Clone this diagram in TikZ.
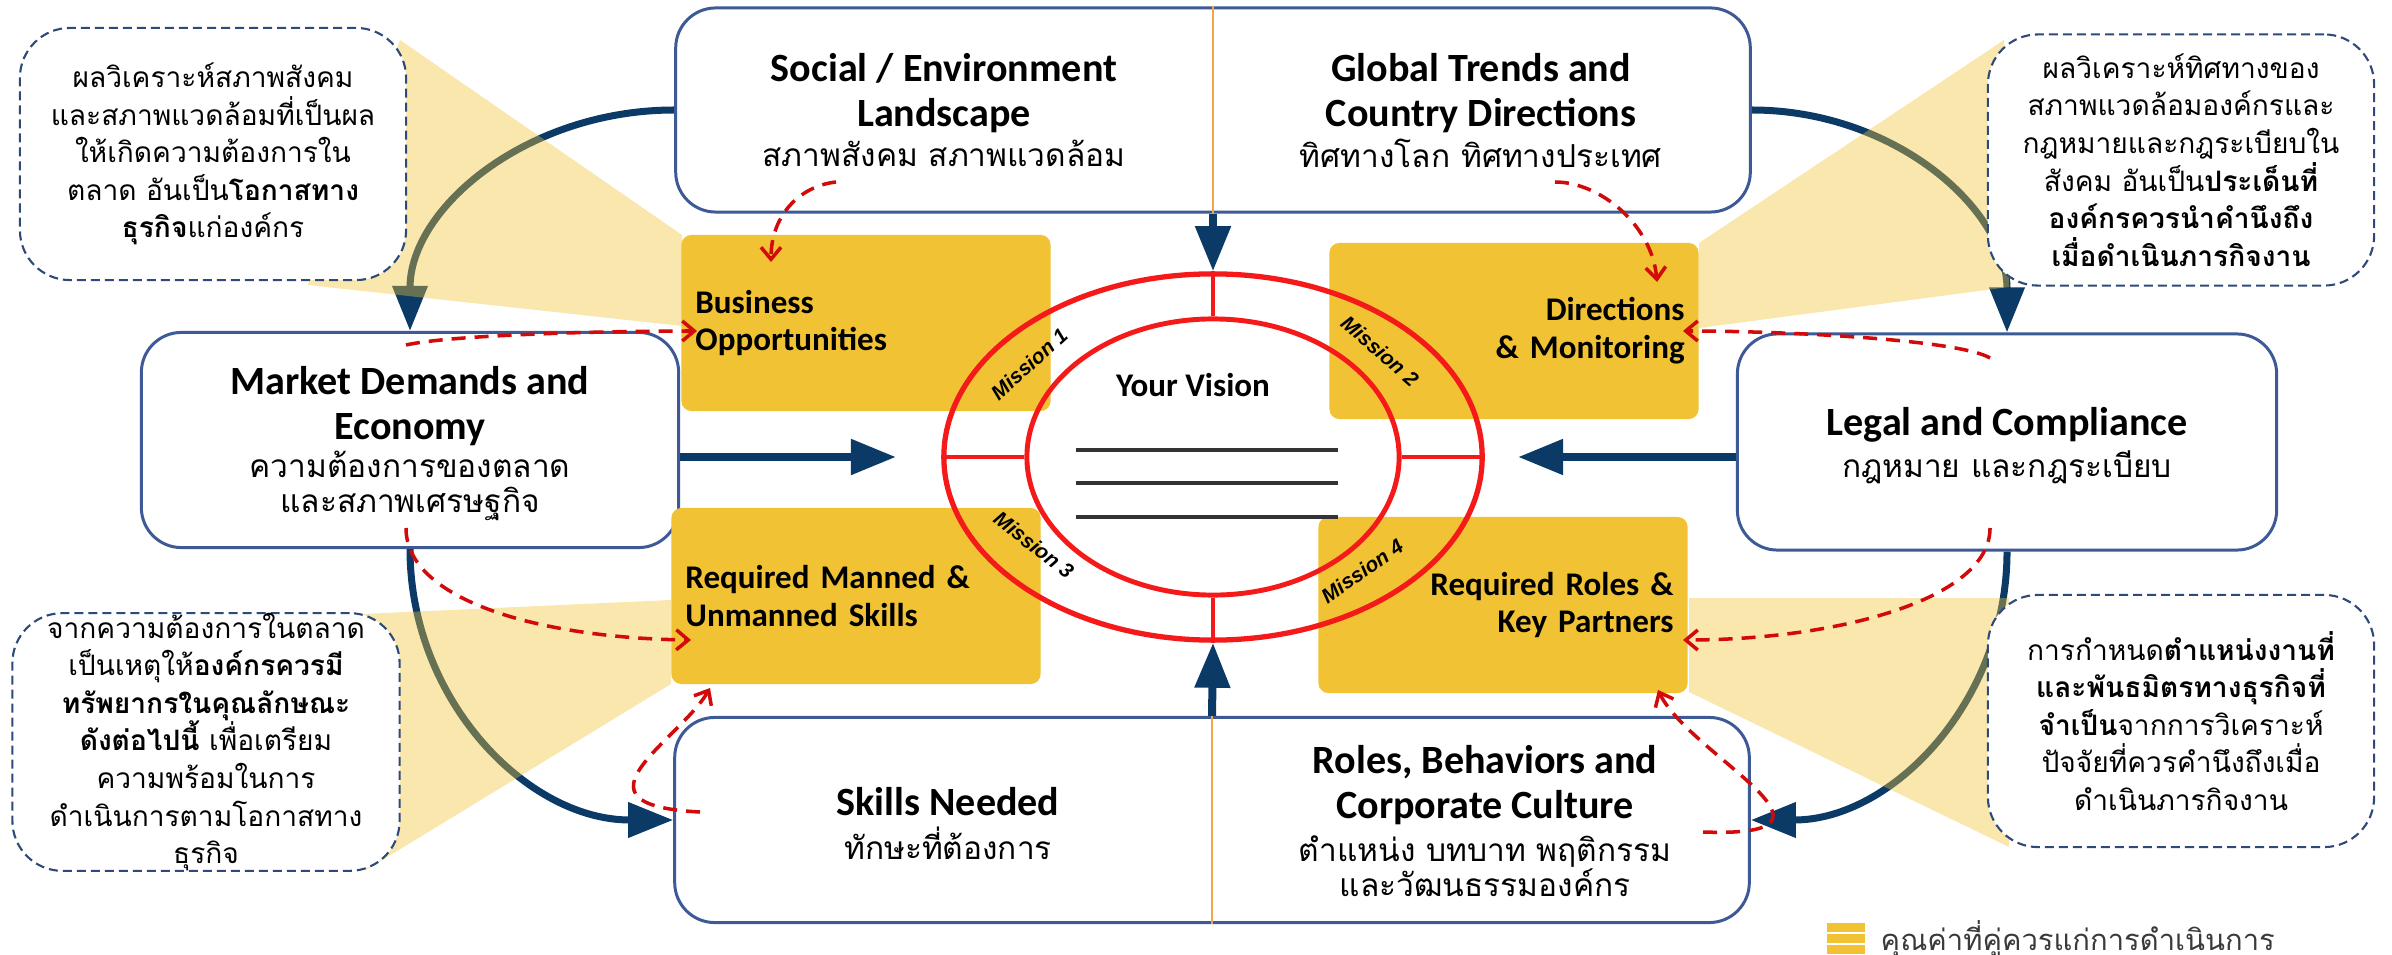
\documentclass[tikz,border=0pt]{standalone}
\usepackage{fontspec}
\setmainfont{Carlito}
\newfontfamily\thaifont[Script=Thai]{Loma}
\newfontfamily\missionfont{Liberation Sans}
\usetikzlibrary{arrows.meta,shapes.geometric,positioning}
\definecolor{navy}{HTML}{0B3A67}
\definecolor{boxblue}{HTML}{3D5A96}
\definecolor{dashblue}{HTML}{2E4A7A}
\definecolor{gold}{HTML}{F0C234}
\definecolor{divorange}{HTML}{F2A54A}
\definecolor{ringred}{HTML}{F51A1A}
\definecolor{dashred}{HTML}{D20A0A}
\definecolor{legendgray}{HTML}{3A3A3A}
\pgfdeclarelayer{arcs}
\pgfdeclarelayer{wedges}
\pgfsetlayers{arcs,wedges,main}
\tikzset{
  bigbox/.style={draw=boxblue, line width=0.85pt, fill=white, rounded corners=0.4cm, inner sep=0pt},
  goldbox/.style={fill=gold, rounded corners=0.1cm, minimum height=1.76cm, text width=3.41cm,
    inner xsep=0.14cm, inner ysep=0pt, font=\fontsize{9.4}{10.8}\selectfont\bfseries},
  callout/.style={draw=dashblue, line width=0.6pt, dash pattern=on 0.09cm off 0.05cm, fill=white,
    rounded corners=0.5cm, inner sep=0pt, align=center, font=\thaifont\fontsize{8}{10.67}\selectfont},
  entitle/.style={font=\fontsize{11.4}{12.8}\selectfont\bfseries, align=center, inner sep=0pt},
  thsub/.style={font=\thaifont\fontsize{9}{10}\selectfont, align=center, inner sep=0pt},
  navyarrow/.style={draw=navy, line width=0.08cm, -{Triangle[length=0.45cm,width=0.34cm]}},
  redarrow/.style={draw=dashred, line width=1pt, dash pattern=on 0.14cm off 0.09cm,
    -{Straight Barb[length=0.12cm,width=0.2cm]}},
  wedge/.style={fill=gold, fill opacity=0.4},
  mission/.style={font=\missionfont\fontsize{5.9}{7}\selectfont\bfseries\itshape, inner sep=0pt}
}

\begin{document}
\begin{tikzpicture}[x=0.01cm, y=-0.01cm]
    \useasboundingbox (0,0) rectangle (2392,955);

    % outer boxes
    \node[bigbox, minimum width=10.74cm, minimum height=2.04cm] (top) at (1213,110) {};
    \node[bigbox, minimum width=10.74cm, minimum height=2.05cm] (bot) at (1212,820) {};
    \node[bigbox, minimum width=5.37cm, minimum height=2.15cm] (mkt) at (410,440) {};
    \node[bigbox, minimum width=5.39cm, minimum height=2.16cm] (leg) at (2007,442) {};
    \draw[divorange, line width=0.6pt] (top.north) -- (top.south);
    \draw[divorange, line width=0.6pt] (bot.north) -- (bot.south);

    \node[entitle] (socT) at (944,93) {Social / Environment\\Landscape};
    \node[thsub] (socS) at (944,153) {สภาพสังคม สภาพแวดล้อม};
    \node[entitle] (gloT) at (1481,93) {Global Trends and\\Country Directions};
    \node[thsub] (gloS) at (1481,153) {ทิศทางโลก ทิศทางประเทศ};
    \node[entitle] (mktT) at (410,406) {Market Demands and\\Economy};
    \node[thsub] (mktS) at (410,486) {ความต้องการของตลาด\\และสภาพเศรษฐกิจ};
    \node[entitle] (legT) at (2007,425) {Legal and Compliance};
    \node[thsub] (legS) at (2007,467) {กฎหมาย และกฎระเบียบ};
    \node[entitle] (sklT) at (948,802) {Skills Needed};
    \node[thsub] (sklS) at (948,843) {ทักษะที่ต้องการ};
    \node[entitle] (rolT) at (1485,785) {Roles, Behaviors and\\Corporate Culture};
    \node[thsub] (rolS) at (1485,866) {ตำแหน่ง บทบาท พฤติกรรม\\และวัฒนธรรมองค์กร};

    % gold boxes
    \node[goldbox, align=left] (bo) at (866,323) {Business\\Opportunities};
    \node[goldbox, align=right] (dm) at (1514,331) {Directions\\\& Monitoring};
    \node[goldbox, align=left] (rms) at (856,596) {Required Manned \&\\Unmanned Skills};
    \node[goldbox, align=right] (rkp) at (1503,605) {Required Roles \&\\Key Partners};

    % vision ring
    \node[draw=ringred, line width=1.5pt, ellipse, minimum width=5.38cm, minimum height=3.66cm, inner sep=0pt] (ring) at (1213,457) {};
    \node[draw=ringred, line width=1.4pt, ellipse, minimum width=3.72cm, minimum height=2.76cm, inner sep=0pt] (vis) at (1213,457) {};
    \foreach \a in {north, south, east, west}
        \draw[ringred, line width=1.4pt] (ring.\a) -- (vis.\a);
    \node[font=\fontsize{9.4}{10.8}\selectfont\bfseries, inner sep=0pt] (yv) at (1193,385) {Your Vision};
    \foreach \yy in {450, 483, 517}
        \draw[black!80, line width=0.9pt] (1076,\yy) -- (1338,\yy);
    \node[mission, rotate=42] (m1) at (1029,364) {Mission 1};
    \node[mission, rotate=-41] (m2) at (1380,351) {Mission 2};
    \node[mission, rotate=-38] (m3) at (1034,545) {Mission 3};
    \node[mission, rotate=35] (m4) at (1362,571) {Mission 4};

    % straight arrows into the ring
    \coordinate (ltip) at (896,457);
    \coordinate (rtip) at (1518,457);
    \draw[navyarrow] (top.south) -- (ring.north);
    \draw[navyarrow] (bot.north) -- (ring.south);
    \draw[navyarrow] (mkt.east |- ring.west) -- (ltip);
    \draw[navyarrow] (leg.west |- ring.west) -- (rtip);

    % round arrows between boxes
    \begin{pgfonlayer}{arcs}
    \draw[navyarrow, line width=0.07cm] (top.west) .. controls +(-147,0) and +(0,-123) .. (mkt.north);
    \draw[navyarrow, line width=0.07cm] (top.east) .. controls +(142,0) and +(0,-124) .. (leg.north);
    \draw[navyarrow, line width=0.07cm] (mkt.south) .. controls +(0,151) and +(-146,0) .. (bot.west);
    \draw[navyarrow, line width=0.07cm] (leg.south) .. controls +(0,149) and +(142,0) .. (bot.east);
    \end{pgfonlayer}

    % pale pointers of the callouts
    \begin{pgfonlayer}{wedges}
    \fill[wedge] (400,40) -- (682,235) -- (682,326) -- (308,285) -- cycle;
    \fill[wedge] (2004,40) -- (2009,287) -- (1699,328) -- (1699,243) -- cycle;
    \fill[wedge] (297,617) -- (671,600) -- (671,684) -- (366,870) -- cycle;
    \fill[wedge] (1689,598) -- (2009,598) -- (2009,847) -- (1689,692) -- cycle;
    \end{pgfonlayer}

    % callouts
    \node[callout, minimum width=3.86cm, minimum height=2.52cm] (cTL) at (213,154)
        {ผลวิเคราะห์สภาพสังคม\\และสภาพแวดล้อมที่เป็นผล\\ให้เกิดความต้องการใน\\ตลาด อันเป็น{\bfseries โอกาสทาง}\\{\bfseries ธุรกิจ}แก่องค์กร};
    \node[callout, minimum width=3.86cm, minimum height=2.51cm] (cTR) at (2181,160)
        {ผลวิเคราะห์ทิศทางของ\\สภาพแวดล้อมองค์กรและ\\กฎหมายและกฎระเบียบใน\\สังคม อันเป็น{\bfseries ประเด็นที่}\\{\bfseries องค์กรควรนำคำนึงถึง}\\{\bfseries เมื่อดำเนินภารกิจงาน}};
    \node[callout, minimum width=3.87cm, minimum height=2.51cm] (cBL) at (206,742)
        {จากความต้องการในตลาด\\เป็นเหตุให้{\bfseries องค์กรควรมี}\\{\bfseries ทรัพยากรในคุณลักษณะ}\\{\bfseries ดังต่อไปนี้} เพื่อเตรียม\\ความพร้อมในการ\\ดำเนินการตามโอกาสทาง\\ธุรกิจ};
    \node[callout, minimum width=3.86cm, minimum height=2.52cm] (cBR) at (2181,721)
        {การกำหนด{\bfseries ตำแหน่งงานที่}\\{\bfseries และพันธมิตรทางธุรกิจที่}\\{\bfseries จำเป็น}จากการวิเคราะห์\\ปัจจัยที่ควรคำนึงถึงเมื่อ\\ดำเนินภารกิจงาน};

    % red dashed links
    \coordinate (r1s) at (836,182);  \coordinate (r1e) at (771,262);
    \coordinate (r2s) at (1555,182); \coordinate (r2e) at (1657,282);
    \coordinate (r3s) at (406,345);  \coordinate (r3e) at (697,331);
    \coordinate (r4s) at (1990,358); \coordinate (r4e) at (1683,331);
    \coordinate (r5s) at (406,528);  \coordinate (r5e) at (691,640);
    \coordinate (r6s) at (1990,528); \coordinate (r6e) at (1683,640);
    \coordinate (r7s) at (700,812);  \coordinate (r7e) at (710,688);
    \coordinate (r8s) at (1703,832); \coordinate (r8e) at (1658,690);
    \draw[redarrow] (r1s) .. controls +(-36,4) and +(0,-47) .. (r1e);
    \draw[redarrow] (r2s) .. controls +(45,0) and +(-5,-57) .. (r2e);
    \draw[redarrow] (r3s) .. controls +(44,-10) and +(-96,0) .. (r3e);
    \draw[redarrow] (r4s) .. controls +(-30,-18) and +(107,0) .. (r4e);
    \draw[redarrow] (r5s) .. controls +(0,72) and +(-152,-2) .. (r5e);
    \draw[redarrow] (r6s) .. controls +(0,72) and +(152,0) .. (r6e);
    \draw[redarrow] (r7s) .. controls +(-140,-7) and +(-30,52) .. (r7e);
    \draw[redarrow] (r8s) .. controls +(167,6) and +(32,66) .. (r8e);

    % legend
    \foreach \yy in {923, 934, 945}
        \fill[gold] (1827,\yy) rectangle (1865,\yy+8.5);
    \node[font=\thaifont\fontsize{8.3}{10}\selectfont, text=legendgray, anchor=base west, inner sep=0pt] (worth) at (1880,950) {คุณค่าที่คู่ควรแก่การดำเนินการ};
\end{tikzpicture}
\end{document}
